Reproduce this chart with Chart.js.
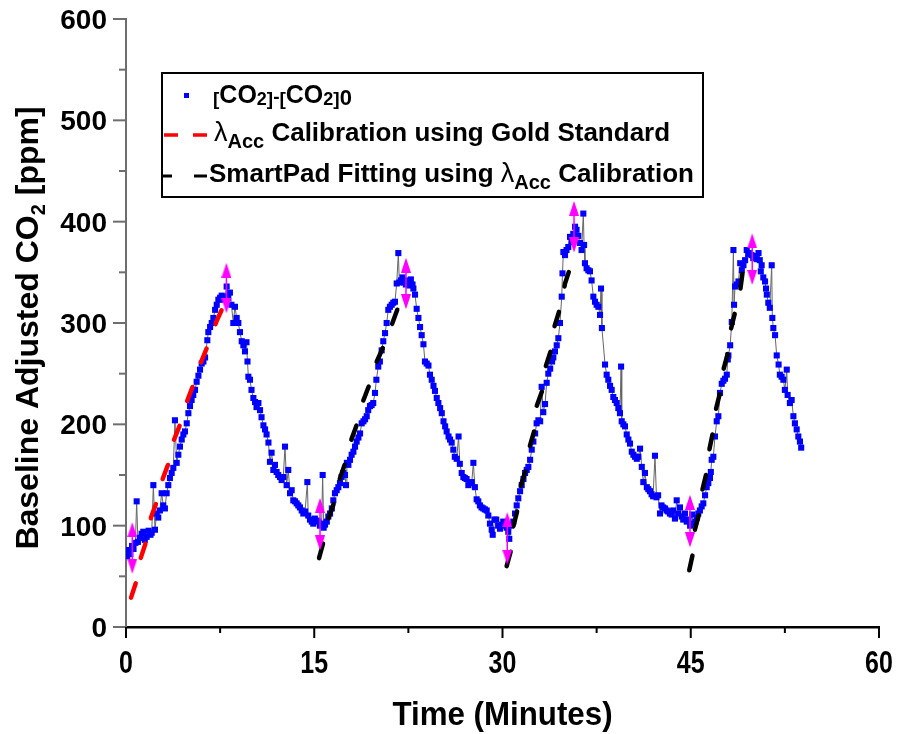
<!DOCTYPE html>
<html>
<head>
<meta charset="utf-8">
<script src="https://cdn.jsdelivr.net/npm/chart.js@4.4.1/dist/chart.umd.min.js"></script>
<style>
  html, body { margin: 0; padding: 0; background: #fff; }
</style>
</head>
<body>
<canvas id="co2Chart" width="898" height="734"></canvas>
<script>
// Measured CO2 minus baseline
const minutes = [
  0.00, 0.10, 0.20, 0.35, 0.48, 0.60, 0.75, 0.85, 0.95, 1.10, 1.25, 1.38, 1.50, 1.65, 1.80, 1.95,
  2.05, 2.18, 2.31, 2.44, 2.57, 2.70, 2.84, 2.97, 3.10, 3.24, 3.37, 3.50, 3.64, 3.77, 3.90, 4.04,
  4.17, 4.30, 4.44, 4.57, 4.70, 4.84, 4.97, 5.10, 5.23, 5.36, 5.50, 5.63, 5.77, 5.90, 6.03, 6.17,
  6.30, 6.48, 6.56, 6.70, 6.83, 6.96, 7.10, 7.23, 7.36, 7.50, 7.63, 7.76, 7.90, 8.02, 8.15, 8.28,
  8.40, 8.55, 8.68, 8.82, 8.95, 9.08, 9.22, 9.35, 9.48, 9.60, 9.68, 9.75, 9.88, 10.00, 10.15, 10.28,
  10.40, 10.55, 10.68, 10.80, 10.95, 11.08, 11.20, 11.35, 11.47, 11.60, 11.74, 11.87, 12.00, 12.13, 12.27, 12.40,
  12.53, 12.67, 12.80, 12.93, 13.07, 13.20, 13.33, 13.47, 13.60, 13.73, 13.86, 14.00, 14.13, 14.27, 14.45, 14.52,
  14.66, 14.80, 14.92, 15.05, 15.20, 15.32, 15.45, 15.59, 15.67, 15.75, 15.86, 16.00, 16.12, 16.26, 16.40, 16.52,
  16.65, 16.79, 16.92, 17.05, 17.18, 17.32, 17.45, 17.53, 17.60, 17.72, 17.85, 17.98, 18.12, 18.25, 18.38, 18.52,
  18.65, 18.78, 18.92, 19.05, 19.18, 19.30, 19.44, 19.57, 19.70, 19.84, 19.95, 20.10, 20.23, 20.37, 20.50, 20.64,
  20.77, 20.90, 21.03, 21.17, 21.30, 21.43, 21.57, 21.70, 21.78, 21.90, 22.03, 22.17, 22.30, 22.43, 22.57, 22.70,
  22.83, 22.90, 23.03, 23.16, 23.30, 23.43, 23.56, 23.70, 23.82, 23.96, 24.10, 24.22, 24.36, 24.50, 24.62, 24.76,
  24.89, 25.03, 25.16, 25.30, 25.43, 25.55, 25.70, 25.82, 25.95, 26.08, 26.20, 26.35, 26.50, 26.60, 26.75, 26.88,
  27.00, 27.14, 27.28, 27.41, 27.55, 27.68, 27.80, 27.94, 28.07, 28.20, 28.33, 28.47, 28.60, 28.74, 28.87, 29.00,
  29.14, 29.22, 29.36, 29.50, 29.65, 29.80, 29.93, 30.06, 30.20, 30.33, 30.46, 30.54, 30.70, 30.86, 31.00, 31.13,
  31.26, 31.40, 31.53, 31.67, 31.80, 31.93, 32.06, 32.20, 32.33, 32.46, 32.60, 32.72, 32.86, 33.00, 33.12, 33.25,
  33.39, 33.52, 33.65, 33.80, 33.95, 34.05, 34.18, 34.32, 34.45, 34.58, 34.72, 34.78, 34.85, 34.98, 35.10, 35.24,
  35.38, 35.50, 35.64, 35.78, 35.90, 36.04, 36.17, 36.30, 36.44, 36.50, 36.57, 36.70, 36.84, 36.97, 37.10, 37.24,
  37.37, 37.50, 37.64, 37.77, 37.85, 37.92, 38.17, 38.30, 38.43, 38.57, 38.70, 38.83, 38.96, 39.10, 39.23, 39.36,
  39.45, 39.50, 39.63, 39.76, 39.90, 40.03, 40.16, 40.30, 40.43, 40.56, 40.70, 40.82, 40.96, 41.10, 41.22, 41.35,
  41.50, 41.62, 41.75, 41.88, 42.00, 42.15, 42.27, 42.40, 42.55, 42.67, 42.80, 42.95, 43.08, 43.20, 43.34, 43.48,
  43.60, 43.74, 43.88, 44.00, 44.14, 44.28, 44.40, 44.54, 44.68, 44.80, 44.95, 45.10, 45.23, 45.36, 45.50, 45.60,
  45.73, 45.87, 46.00, 46.14, 46.27, 46.40, 46.53, 46.60, 46.67, 46.80, 46.93, 47.07, 47.20, 47.33, 47.47, 47.60,
  47.73, 47.87, 47.95, 48.00, 48.14, 48.27, 48.40, 48.45, 48.53, 48.66, 48.80, 48.94, 49.07, 49.20, 49.33, 49.46,
  49.58, 49.70, 49.84, 49.98, 50.12, 50.26, 50.40, 50.50, 50.58, 50.65, 50.78, 50.92, 51.00, 51.06, 51.18, 51.30,
  51.45, 51.50, 51.58, 51.72, 51.85, 52.00, 52.10, 52.24, 52.38, 52.50, 52.65, 52.72, 52.90, 53.04, 53.18, 53.30,
  53.44, 53.57, 53.70, 53.80
];
const co2 = [
  73, 70, 76, 72, 80, 77, 83, 124, 84, 88, 92, 94, 86, 89, 95, 91,
  93, 140, 96, 112, 108, 115, 132, 120, 117, 132, 140, 147, 152, 157, 204, 162,
  170, 178, 185, 190, 193, 201, 211, 218, 224, 229, 234, 242, 248, 254, 260, 262,
  266, 283, 291, 296, 300, 305, 313, 318, 323, 325, 327, 323, 326, 336, 325, 330,
  318, 300, 316, 305, 300, 291, 282, 278, 272, 281, 262, 247, 244, 234, 226, 222,
  217, 221, 214, 207, 199, 195, 190, 182, 163, 172, 155, 160, 153, 150, 148, 145,
  148, 178, 140, 155, 132, 135, 125, 124, 122, 120, 118, 115, 112, 114, 143, 110,
  106, 104, 102, 107, 105, 104, 100, 102, 150, 98, 101, 104, 109, 112, 117, 125,
  132, 135, 138, 142, 148, 152, 150, 140, 162, 160, 165, 170, 173, 178, 183, 187,
  191, 201, 203, 205, 208, 214, 218, 219, 221, 231, 244, 257, 262, 273, 282, 290,
  300, 313, 316, 318, 320, 321, 339, 369, 340, 342, 345, 340, 338, 342, 337, 343,
  338, 334, 328, 314, 305, 296, 288, 279, 262, 260, 258, 249, 244, 238, 233, 226,
  221, 216, 211, 203, 198, 193, 188, 185, 182, 175, 168, 166, 188, 161, 152, 148,
  147, 146, 140, 142, 143, 162, 138, 126, 124, 120, 118, 117, 116, 115, 110, 102,
  96, 91, 106, 106, 100, 97, 101, 104, 100, 98, 94, 87, 100, 104, 112, 120,
  127, 134, 140, 146, 152, 155, 158, 165, 175, 183, 191, 201, 204, 203, 237, 212,
  220, 241, 250, 255, 262, 266, 272, 278, 285, 300, 326, 349, 370, 367, 372, 375,
  385, 380, 388, 395, 392, 386, 379, 372, 408, 377, 359, 354, 352, 351, 342, 326,
  321, 318, 316, 308, 334, 295, 259, 249, 244, 238, 234, 227, 224, 221, 216, 211,
  257, 203, 200, 198, 190, 185, 181, 173, 170, 168, 166, 168, 176, 158, 143, 152,
  138, 136, 134, 131, 129, 169, 128, 130, 112, 120, 118, 117, 115, 114, 112, 111,
  115, 107, 125, 112, 118, 109, 106, 112, 104, 106, 100, 111, 102, 104, 108, 112,
  115, 119, 122, 130, 138, 142, 147, 153, 165, 168, 188, 203, 208, 231, 240, 243,
  245, 249, 264, 268, 278, 301, 372, 318, 336, 338, 341, 359, 352, 357, 362, 372,
  368, 369, 367, 364, 366, 363, 369, 362, 351, 357, 345, 341, 334, 328, 320, 315,
  357, 305, 295, 288, 268, 259, 249, 247, 244, 234, 254, 229, 221, 224, 208, 201,
  195, 188, 183, 177
];

// Calibration curve from the gold standard (first rise)
const goldMinutes = [0.40, 0.85, 1.17, 1.65, 1.99, 2.49, 2.89, 3.43, 3.77, 4.38, 4.78, 5.36, 5.84, 6.69, 7.22, 7.89];
const goldCo2 = [29, 46, 68, 86, 108, 125, 145, 163, 183, 202, 220, 239, 257, 283, 302, 320];

// SmartPad fits for the later rises, null splits the runs
const fitMinutes = [
  15.38, 15.78, 16.12, 16.65, 17.00, 17.50, 17.90, 18.43, 18.83, 19.39, 19.84, 20.45, 20.64, 21.17, 21.70, 22.23, null,
  30.33, 30.73, 30.86, 31.26, 31.45, 31.93, 32.14, 32.59, 32.72, 33.25, 33.39, 33.86, 34.10, 34.72, 34.98, 35.46, null,
  44.88, 45.20, 45.33, 45.74, 45.92, 46.27, 46.48, 46.80, 46.99, 47.39, 47.60, 48.00, 48.18, 48.92, 49.14, 49.58
];
const fitCo2 = [
  68, 86, 107, 125, 145, 163, 183, 201, 221, 239, 258, 275, 280, 298, 316, 334, null,
  60, 78, 99, 119, 139, 158, 177, 196, 218, 236, 255, 273, 295, 320, 339, 357, null,
  56, 74, 96, 115, 135, 153, 175, 194, 214, 234, 254, 272, 293, 330, 351, 370
];

// Start / stop markers (double arrows)
const arrowMinutes = [0.5, 8.0, 15.46, 22.31, 30.38, 35.7, 44.94, 49.9];
const arrowTop = [96, 352, 120, 357, 106, 413, 123, 381];
const arrowBottom = [60, 317, 83, 321, 69, 377, 86, 345];

const xTicks = [0, 15, 30, 45, 60];
const xMinorTicks = [7.5, 22.5, 37.5, 52.5];
const yTicks = [0, 100, 200, 300, 400, 500, 600];
const yMinorTicks = [50, 150, 250, 350, 450, 550];

const FONT = '"Liberation Sans", Arial, sans-serif';

function makeHead(up) {
  const c = document.createElement('canvas');
  c.width = 10;
  c.height = 15;
  const g = c.getContext('2d');
  g.fillStyle = '#ff00ff';
  g.beginPath();
  if (up) {
    g.moveTo(5, 0); g.lineTo(10, 15); g.lineTo(0, 15);
  } else {
    g.moveTo(0, 0); g.lineTo(10, 0); g.lineTo(5, 15);
  }
  g.closePath();
  g.fill();
  return c;
}
const headUp = makeHead(true);
const headDown = makeHead(false);

const pairs = (xs, ys) => xs.map((x, i) => ({ x: x, y: ys[i] }));
const arrowPoints = [];
arrowMinutes.forEach((t, i) => {
  arrowPoints.push({ x: t, y: arrowTop[i] }, { x: t, y: arrowBottom[i] }, { x: t, y: null });
});

function drawParts(ctx, x, y, parts) {
  parts.forEach(p => {
    ctx.font = (p.weight || 'bold') + ' ' + p.size + 'px ' + FONT;
    ctx.fillText(p.text, x, y + (p.dy || 0));
    x += ctx.measureText(p.text).width;
  });
  return x;
}

function partsWidth(ctx, parts) {
  let w = 0;
  parts.forEach(p => {
    ctx.font = (p.weight || 'bold') + ' ' + p.size + 'px ' + FONT;
    w += ctx.measureText(p.text).width;
  });
  return w;
}

// Ticks, labels, axis titles and the legend box
const decorPlugin = {
  id: 'decor',
  beforeDraw(chart) {
    const ctx = chart.ctx;
    ctx.save();
    ctx.fillStyle = '#fff';
    ctx.fillRect(0, 0, chart.width, chart.height);
    ctx.restore();
  },
  afterDraw(chart) {
    const ctx = chart.ctx;
    const xs = chart.scales.x;
    const ys = chart.scales.y;
    const area = chart.chartArea;
    ctx.save();

    // y ticks
    ctx.strokeStyle = '#6e6e6e';
    ctx.lineWidth = 2;
    yTicks.forEach(v => {
      const py = ys.getPixelForValue(v);
      ctx.beginPath(); ctx.moveTo(area.left - 13, py); ctx.lineTo(area.left, py); ctx.stroke();
    });
    yMinorTicks.forEach(v => {
      const py = ys.getPixelForValue(v);
      ctx.beginPath(); ctx.moveTo(area.left - 7, py); ctx.lineTo(area.left, py); ctx.stroke();
    });

    // x ticks
    ctx.strokeStyle = '#000';
    xTicks.forEach(v => {
      const px = xs.getPixelForValue(v);
      ctx.beginPath(); ctx.moveTo(px, area.bottom); ctx.lineTo(px, area.bottom + 11); ctx.stroke();
    });
    xMinorTicks.forEach(v => {
      const px = xs.getPixelForValue(v);
      ctx.beginPath(); ctx.moveTo(px, area.bottom); ctx.lineTo(px, area.bottom + 6); ctx.stroke();
    });

    ctx.fillStyle = '#000';
    ctx.textBaseline = 'alphabetic';

    // y tick labels
    ctx.font = 'bold 28px ' + FONT;
    ctx.textAlign = 'right';
    yTicks.forEach(v => {
      ctx.fillText(String(v), 107, ys.getPixelForValue(v) + 10);
    });

    // x tick labels (narrow face)
    ctx.font = 'bold 32px ' + FONT;
    ctx.textAlign = 'center';
    xTicks.forEach(v => {
      ctx.save();
      ctx.translate(xs.getPixelForValue(v), area.bottom + 46);
      ctx.scale(0.78, 1);
      ctx.fillText(String(v), 0, 0);
      ctx.restore();
    });

    // x title
    ctx.save();
    ctx.font = 'bold 34px ' + FONT;
    ctx.translate((area.left + area.right) / 2, 725);
    ctx.scale(0.92, 1);
    ctx.fillText('Time (Minutes)', 0, 0);
    ctx.restore();

    // y title with subscript
    ctx.textAlign = 'left';
    const yTitle = [
      { text: 'Baseline Adjusted CO', size: 32 },
      { text: '2', size: 20, dy: 7 },
      { text: ' [ppm]', size: 32 }
    ];
    ctx.save();
    ctx.translate(38, 328);
    ctx.rotate(-Math.PI / 2);
    drawParts(ctx, -partsWidth(ctx, yTitle) / 2, 0, yTitle);
    ctx.restore();

    // legend box
    ctx.fillStyle = '#fff';
    ctx.fillRect(162, 73, 541, 124);
    ctx.strokeStyle = '#000';
    ctx.lineWidth = 2;
    ctx.strokeRect(162, 73, 541, 124);

    ctx.fillStyle = '#0000ff';
    ctx.fillRect(184, 93, 5, 5);

    ctx.lineCap = 'butt';
    ctx.lineWidth = 3.5;
    ctx.strokeStyle = '#ff0000';
    ctx.beginPath();
    ctx.moveTo(164, 135); ctx.lineTo(178, 135);
    ctx.moveTo(193, 135); ctx.lineTo(207, 135);
    ctx.stroke();

    ctx.strokeStyle = '#000';
    ctx.lineWidth = 3;
    ctx.beginPath();
    ctx.moveTo(163, 176); ctx.lineTo(172, 176);
    ctx.moveTo(194, 176); ctx.lineTo(207, 176);
    ctx.stroke();

    ctx.fillStyle = '#000';
    drawParts(ctx, 213, 103, [
      { text: '[', size: 19, dy: 2 },
      { text: 'CO', size: 25 },
      { text: '2', size: 18, dy: 2 },
      { text: ']', size: 19, dy: 2 },
      { text: '-', size: 19 },
      { text: '[', size: 19, dy: 2 },
      { text: 'CO', size: 25 },
      { text: '2', size: 18, dy: 2 },
      { text: ']', size: 19, dy: 2 },
      { text: '0', size: 22, dy: 2 }
    ]);
    drawParts(ctx, 214, 141, [
      { text: 'λ', size: 27, weight: 'normal' },
      { text: 'Acc', size: 20, dy: 7 },
      { text: ' Calibration using Gold Standard', size: 26 }
    ]);
    drawParts(ctx, 209, 182, [
      { text: 'SmartPad Fitting using ', size: 26 },
      { text: 'λ', size: 27, weight: 'normal' },
      { text: 'Acc', size: 20, dy: 7 },
      { text: ' Calibration', size: 26 }
    ]);

    ctx.restore();
  }
};

new Chart(document.getElementById('co2Chart'), {
  type: 'scatter',
  data: {
    datasets: [
      {
        label: '[CO2]-[CO2]0',
        data: pairs(minutes, co2),
        showLine: true,
        borderColor: '#666666',
        borderWidth: 1,
        pointStyle: 'rect',
        pointRadius: 4.3,
        pointBackgroundColor: '#0000ff',
        pointBorderColor: '#0000ff',
        pointBorderWidth: 0,
        order: 4
      },
      {
        label: 'λAcc Calibration using Gold Standard',
        data: pairs(goldMinutes, goldCo2),
        showLine: true,
        borderColor: '#ff0000',
        borderWidth: 4.5,
        borderDash: [15, 26],
        borderCapStyle: 'round',
        pointRadius: 0,
        order: 3
      },
      {
        label: 'SmartPad Fitting using λAcc Calibration',
        data: pairs(fitMinutes, fitCo2),
        showLine: true,
        spanGaps: false,
        borderColor: '#000000',
        borderWidth: 4.5,
        borderDash: [15, 26],
        borderCapStyle: 'round',
        pointRadius: 0,
        order: 2
      },
      {
        label: 'markers',
        data: arrowPoints,
        showLine: true,
        spanGaps: false,
        borderColor: '#ff00ff',
        borderWidth: 1.5,
        pointStyle: ctx => (ctx.dataIndex % 3 === 0 ? headUp : headDown),
        pointRadius: 7,
        order: 1
      }
    ]
  },
  options: {
    responsive: false,
    devicePixelRatio: 1,
    animation: false,
    events: [],
    layout: { padding: { top: 19, right: 19, left: 0, bottom: 0 } },
    plugins: {
      legend: { display: false },
      tooltip: { enabled: false }
    },
    scales: {
      x: {
        type: 'linear',
        min: 0,
        max: 60,
        grid: { display: false },
        ticks: { display: false },
        border: { color: '#000', width: 2.5 },
        afterFit: scale => { scale.height = 107; }
      },
      y: {
        type: 'linear',
        min: 0,
        max: 600,
        grid: { display: false },
        ticks: { display: false },
        border: { color: '#6e6e6e', width: 2 },
        afterFit: scale => { scale.width = 126; }
      }
    }
  },
  plugins: [decorPlugin]
});
</script>
</body>
</html>
